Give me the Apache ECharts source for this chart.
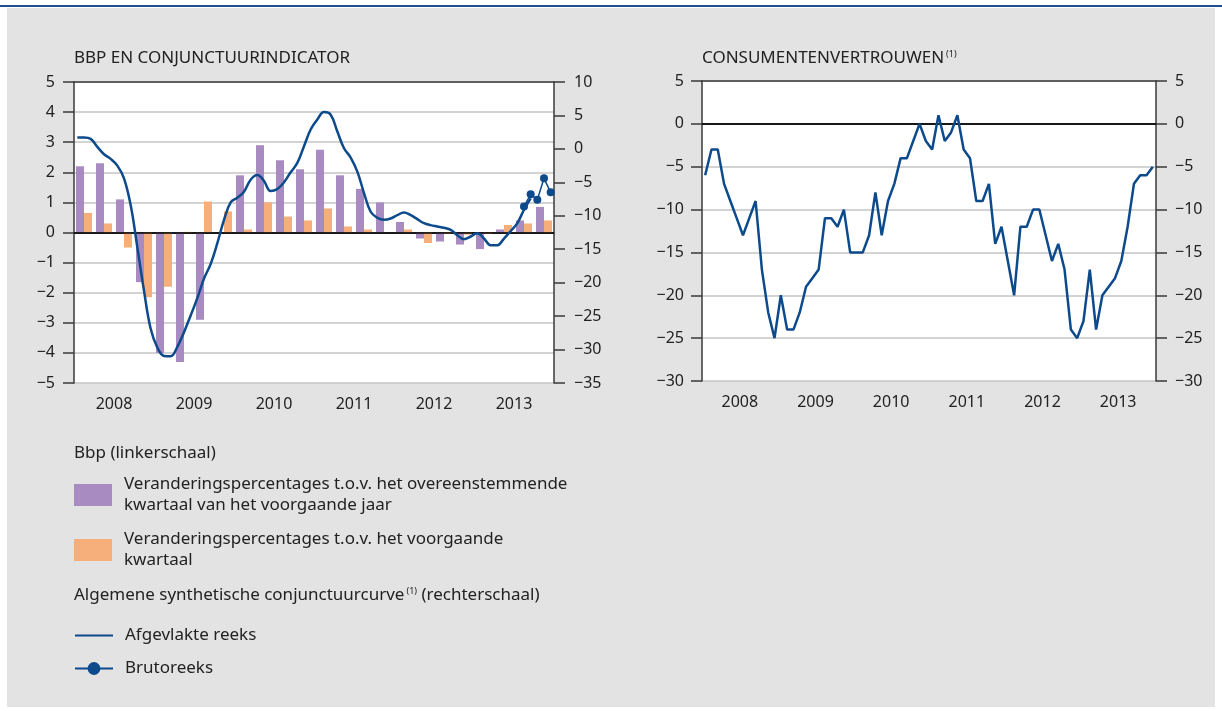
<!DOCTYPE html>
<html>
<head>
<meta charset="utf-8">
<script src="https://cdn.jsdelivr.net/npm/echarts@6/dist/echarts.min.js"></script>
<style>
  html, body { margin: 0; padding: 0; background: #fff; }
  #topline { position: absolute; left: 0; top: 5px; width: 1222px; height: 2px; background: #1c4f8c; }
  #panel { position: absolute; left: 7px; top: 8px; width: 1208px; height: 699px; background: #e3e3e3; }
  #chart { position: absolute; left: 0; top: 0; width: 1222px; height: 711px; }
</style>
</head>
<body>
<div id="topline"></div>
<div id="panel"></div>
<div id="chart"></div>
<script>
  // jaren, kwartalen en maanden (2008-2013)
  const years = ['2008', '2009', '2010', '2011', '2012', '2013']
  const quarters = years.flatMap(y => ['K1', 'K2', 'K3', 'K4'].map(q => q + ' ' + y))
  const months = years.flatMap(y => ['01', '02', '03', '04', '05', '06', '07', '08', '09', '10', '11', '12'].map(m => y + '-' + m))

  // bbp, linkerschaal (%)
  const bbpYoY = [2.2, 2.3, 1.1, -1.65, -4.0, -4.3, -2.9, 0.0,
    1.9, 2.9, 2.4, 2.1, 2.75, 1.9, 1.45, 1.0,
    0.35, -0.2, -0.3, -0.4, -0.55, 0.1, 0.4, 0.85]
  const bbpQoQ = [0.65, 0.3, -0.5, -2.15, -1.8, 0.02, 1.03, 0.7,
    0.1, 1.0, 0.53, 0.4, 0.8, 0.2, 0.1, 0.0,
    0.1, -0.35, -0.05, -0.07, -0.05, 0.25, 0.3, 0.4]

  // conjunctuurcurve, rechterschaal (maandelijks)
  const curveSmooth = [1.7, 1.7, 1.5, 0.3, -0.8, -1.5, -2.5, -4.4, -8.4, -14.7, -21.2, -26.9,
    -29.7, -30.95, -31.0, -29.6, -27.4, -24.9, -22.3, -19.4, -17.2, -14.1, -10.6, -8.0,
    -7.3, -6.4, -4.6, -3.9, -4.8, -6.3, -6.0, -5.0, -3.5, -2.1, 0.4, 2.9,
    4.4, 5.5, 5.1, 2.6, 0.1, -1.3, -3.4, -6.6, -9.4, -10.3, -10.6, -10.4,
    -9.9, -9.5, -9.9, -10.5, -11.1, -11.4, -11.6, -11.8, -12.1, -12.9, -13.5, -13.1,
    -12.6, -13.4, -14.4, -14.4, -13.4, -12.3, -11.1, -9.1, -7.4, null, null, null]
  const curveRaw = [null, null, null, null, null, null, null, null, null, null, null, null,
    null, null, null, null, null, null, null, null, null, null, null, null,
    null, null, null, null, null, null, null, null, null, null, null, null,
    null, null, null, null, null, null, null, null, null, null, null, null,
    null, null, null, null, null, null, null, null, null, null, null, null,
    null, null, null, null, null, null, null, -8.6, -6.8, -7.6, -4.4, -6.5]

  // consumentenvertrouwen (maandelijks)
  const consumer = [-6, -3, -3, -7, -9, -11, -13, -11, -9, -17, -22, -25,
    -20, -24, -24, -22, -19, -18, -17, -11, -11, -12, -10, -15,
    -15, -15, -13, -8, -13, -9, -7, -4, -4, -2, 0, -2,
    -3, 1, -2, -1, 1, -3, -4, -9, -9, -7, -14, -12,
    -16, -20, -12, -12, -10, -10, -13, -16, -14, -17, -24, -25,
    -23, -17, -24, -20, -19, -18, -16, -12, -7, -6, -6, -5]

  const nameYoY = 'Veranderingspercentages t.o.v. het overeenstemmende kwartaal van het voorgaande jaar'
  const nameQoQ = 'Veranderingspercentages t.o.v. het voorgaande kwartaal'

  const purple = '#a88bc1'
  const orange = '#f6ae7a'
  const blue = '#0d4a8c'
  const axisColor = '#3a3a3a'
  const gridColor = '#c4c4c4'
  const textColor = '#222'
  const fontFamily = 'Noto Sans'

  let minus = function (v) {
    return String(v).replace('-', '\u2212')
  }

  let yearAxis = function (gridIndex) {
    return {
      type: 'category', gridIndex: gridIndex, data: years, position: 'bottom',
      axisLine: { lineStyle: { color: axisColor, width: 1.5 } },
      axisTick: { inside: true, length: 11, lineStyle: { color: axisColor, width: 1.5 } },
      axisLabel: { margin: 13, color: textColor, fontSize: 16, fontFamily: fontFamily }
    }
  }
  let topAxis = function (gridIndex) {
    return {
      type: 'category', gridIndex: gridIndex, data: years, position: 'top',
      axisLine: { lineStyle: { color: axisColor, width: 1.5 } },
      axisTick: { show: false }, axisLabel: { show: false }
    }
  }
  let valueAxis = function (gridIndex, pos, min, max, interval, margin, split) {
    return {
      type: 'value', gridIndex: gridIndex, position: pos, min: min, max: max, interval: interval,
      axisLine: { show: true, lineStyle: { color: axisColor, width: 1.5 } },
      axisTick: { show: true, length: 11, lineStyle: { color: axisColor, width: 1.5 } },
      axisLabel: { margin: margin, color: textColor, fontSize: 16, fontFamily: fontFamily, formatter: minus },
      splitLine: { show: split, lineStyle: { color: gridColor, width: 1.5 } }
    }
  }
  let zeroLine = {
    silent: true, symbol: 'none', label: { show: false },
    lineStyle: { color: '#000', width: 1.5, type: 'solid' },
    data: [{ yAxis: 0 }]
  }
  let legendText = { fontSize: 17, lineHeight: 21, color: textColor, fontFamily: fontFamily, padding: [0, 0, 0, 7] }
  let legendBox = function (item, top, h, fmt) {
    return {
      data: [item], left: 74, top: top, orient: 'vertical', padding: 0,
      itemWidth: 38, itemHeight: h, selectedMode: false,
      textStyle: legendText, formatter: fmt
    }
  }

  let chart = echarts.init(document.getElementById('chart'))
  let options = {
    animation: false,
    backgroundColor: 'transparent',
    textStyle: { fontFamily: fontFamily },
    graphic: [
      { type: 'rect', shape: { x: 74, y: 82, width: 480, height: 301 }, style: { fill: '#fff' }, z: -10 },
      { type: 'rect', shape: { x: 702, y: 81, width: 454, height: 300 }, style: { fill: '#fff' }, z: -10 },
      { type: 'text', left: 74, top: 50, style: { text: 'BBP EN CONJUNCTUURINDICATOR', fontSize: 17, fill: textColor, fontFamily: fontFamily } },
      {
        type: 'text', left: 702, top: 50,
        style: {
          text: '{a|CONSUMENTENVERTROUWEN}{s|(1)}', fill: textColor,
          rich: { a: { fontSize: 17, fontFamily: fontFamily, fill: textColor }, s: { fontSize: 9, fontFamily: fontFamily, verticalAlign: 'top', padding: [0, 0, 8, 2] } }
        }
      },
      { type: 'text', left: 74, top: 445, style: { text: 'Bbp (linkerschaal)', fontSize: 17, fill: textColor, fontFamily: fontFamily } },
      {
        type: 'text', left: 74, top: 587,
        style: {
          text: '{a|Algemene synthetische conjunctuurcurve}{s|(1)}{a| (rechterschaal)}', fill: textColor,
          rich: { a: { fontSize: 17, fontFamily: fontFamily, fill: textColor }, s: { fontSize: 9, fontFamily: fontFamily, verticalAlign: 'top', padding: [0, 0, 8, 2] } }
        }
      }
    ],
    legend: [
      legendBox({ name: nameYoY, icon: 'rect' }, 474, 22, function () { return 'Veranderingspercentages t.o.v. het overeenstemmende\nkwartaal van het voorgaande jaar' }),
      legendBox({ name: nameQoQ, icon: 'rect' }, 529, 22, function () { return 'Veranderingspercentages t.o.v. het voorgaande\nkwartaal' }),
      legendBox({ name: 'Afgevlakte reeks', itemStyle: { opacity: 0 } }, 625, 16),
      legendBox({ name: 'Brutoreeks' }, 658, 16)
    ],
    grid: [
      { left: 74, top: 82, width: 480, height: 301 },
      { left: 702, top: 81, width: 454, height: 300 }
    ],
    xAxis: [
      yearAxis(0),
      { type: 'category', gridIndex: 0, data: quarters, show: false },
      { type: 'category', gridIndex: 0, data: months, show: false },
      topAxis(0),
      yearAxis(1),
      { type: 'category', gridIndex: 1, data: months, show: false },
      topAxis(1)
    ],
    yAxis: [
      valueAxis(0, 'left', -5, 5, 1, 19, true),
      valueAxis(0, 'right', -35, 10, 5, 20, false),
      valueAxis(1, 'left', -30, 5, 5, 18, true),
      valueAxis(1, 'right', -30, 5, 5, 19, false)
    ],
    series: [
      {
        name: nameYoY, type: 'bar', xAxisIndex: 1, yAxisIndex: 0, data: bbpYoY,
        barWidth: 8, barGap: '0%', itemStyle: { color: purple }, markLine: zeroLine
      },
      {
        name: nameQoQ, type: 'bar', xAxisIndex: 1, yAxisIndex: 0, data: bbpQoQ,
        barWidth: 8, barGap: '0%', itemStyle: { color: orange }
      },
      {
        name: 'Afgevlakte reeks', type: 'line', xAxisIndex: 2, yAxisIndex: 1, data: curveSmooth,
        symbol: 'none', smooth: 0.4, lineStyle: { color: blue, width: 2.5 }, itemStyle: { color: blue }, z: 5
      },
      {
        name: 'Brutoreeks', type: 'line', xAxisIndex: 2, yAxisIndex: 1, data: curveRaw,
        symbol: 'circle', symbolSize: 8, showAllSymbol: true, lineStyle: { color: blue, width: 1.5 }, itemStyle: { color: blue }, z: 6
      },
      {
        name: 'Consumentenvertrouwen', type: 'line', xAxisIndex: 5, yAxisIndex: 2, data: consumer,
        symbol: 'none', lineStyle: { color: blue, width: 2.5 }, markLine: zeroLine, z: 5
      }
    ]
  }
  chart.setOption(options)
</script>
</body>
</html>
